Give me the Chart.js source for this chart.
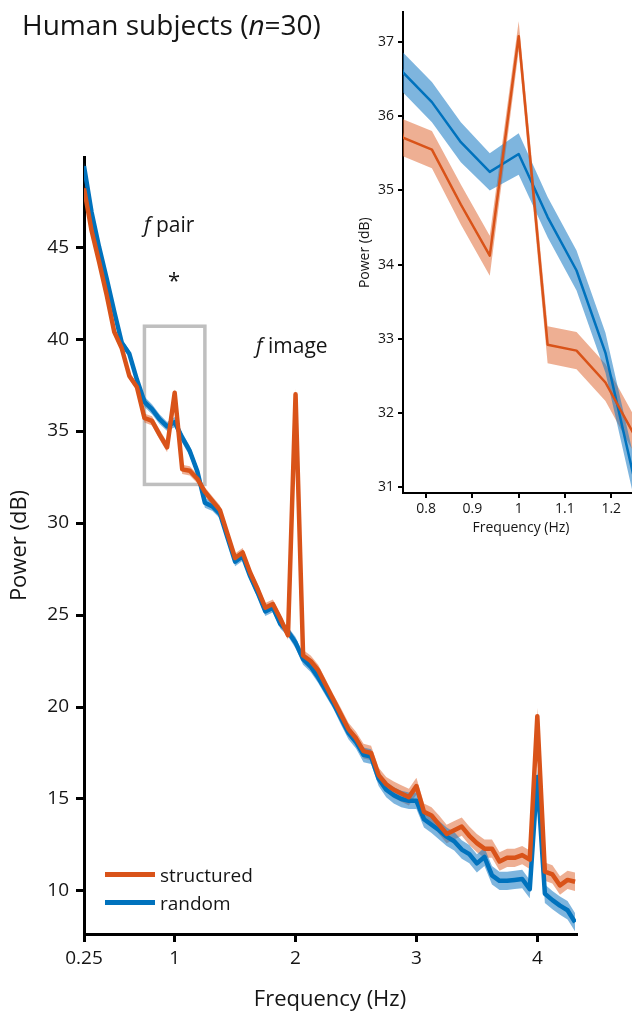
<!DOCTYPE html>
<html><head><meta charset="utf-8">
<script src="https://cdn.jsdelivr.net/npm/chart.js@4.4.1/dist/chart.umd.min.js"></script>
<style>
html,body{margin:0;padding:0;background:#fff;overflow:hidden;width:632px;height:1017px;}
#wrap{position:relative;width:632px;height:1017px;overflow:hidden;background:#fff;}
#main{position:absolute;left:0;top:0;}
#inset{position:absolute;left:340px;top:0;}
.t{position:absolute;font-family:"Open Sans","Noto Sans",sans-serif;color:#151515;white-space:nowrap;line-height:1;}
.lg{position:absolute;height:5px;width:50px;}
</style></head><body>
<div id="wrap">
<canvas id="main" width="632" height="1017"></canvas>
<canvas id="inset" width="311" height="545"></canvas>
<div class="t" style="left:22px;top:10px;font-size:28px;">Human subjects (<i>n</i>=30)</div>
<div class="t" style="left:144px;top:214px;font-size:21px;"><i>f</i> pair</div>
<div class="t" style="left:168px;top:268px;font-size:22px;">*</div>
<div class="t" style="left:256px;top:335px;font-size:21px;"><i>f</i> image</div>
<div class="lg" style="left:105px;top:872px;background:#D95319;"></div>
<div class="lg" style="left:105px;top:900px;background:#0072BD;"></div>
<div class="t" style="left:160px;top:866px;font-size:19px;">structured</div>
<div class="t" style="left:160px;top:894px;font-size:19px;">random</div>
</div>
<script>
// ---------- data ----------
const freqs = [0.25,0.3125,0.375,0.4375,0.5,0.5625,0.625,0.6875,0.75,0.8125,0.875,0.9375,1,1.0625,1.125,1.1875,1.25,1.3125,1.375,1.4375,1.5,1.5625,1.625,1.6875,1.75,1.8125,1.875,1.9375,2,2.0625,2.125,2.1875,2.25,2.3125,2.375,2.4375,2.5,2.5625,2.625,2.6875,2.75,2.8125,2.875,2.9375,3,3.0625,3.125,3.1875,3.25,3.3125,3.375,3.4375,3.5,3.5625,3.625,3.6875,3.75,3.8125,3.875,3.9375,4,4.0625,4.125,4.1875,4.25,4.3125];
const structured = [48.2,45.9,44.2,42.4,40.4,39.5,38.0,37.4,
  35.71,35.55,34.81,34.12,37.08,32.92,32.84,32.41,31.70,
  31.2,30.7,29.4,28.1,28.4,27.3,26.4,25.4,25.6,24.8,23.9,
  37.0,22.8,22.5,22.0,21.2,20.4,19.6,18.8,18.3,17.6,17.5,16.3,15.8,15.5,15.3,15.1,
  15.7,14.3,14.1,13.6,13.1,13.3,13.5,13.0,12.6,12.3,12.3,11.6,11.8,11.8,11.95,11.7,19.5,11.05,10.9,10.3,10.6,10.5];
const random = [49.4,46.9,45.0,43.3,41.5,39.8,39.2,37.8,
  36.59,36.19,35.65,35.25,35.49,34.64,33.92,32.81,31.10,
  30.9,30.5,29.2,27.9,28.2,27.1,26.2,25.2,25.4,24.5,24.1,
  23.5,22.6,22.2,21.6,20.9,20.2,19.4,18.6,18.1,17.4,17.3,16.1,15.5,15.2,15.0,14.9,
  14.9,13.9,13.6,13.3,12.95,12.7,12.25,12.0,11.5,11.85,10.85,10.55,10.55,10.6,10.65,10.1,16.2,9.85,9.5,9.2,8.95,8.3];
const semStructured = [0.2,0.2,0.2,0.2,0.2,0.2,0.2,0.2,
  0.25,0.25,0.27,0.27,0.2,0.25,0.25,0.25,0.25,
  0.25,0.25,0.25,0.25,0.25,0.25,0.25,0.25,0.25,0.25,0.25,
  0.3,0.3,0.3,0.3,0.3,0.3,0.35,0.35,0.35,0.4,0.4,0.4,0.4,0.45,0.45,0.45,
  0.45,0.45,0.45,0.5,0.5,0.5,0.5,0.5,0.5,0.5,0.5,0.5,0.5,0.5,0.5,0.5,0.45,0.5,0.5,0.5,0.5,0.5];
const semRandom = [0.2,0.2,0.2,0.2,0.2,0.2,0.2,0.2,
  0.27,0.27,0.27,0.25,0.28,0.27,0.27,0.27,0.27,
  0.25,0.25,0.25,0.25,0.25,0.25,0.25,0.25,0.25,0.25,0.25,
  0.3,0.3,0.3,0.3,0.3,0.3,0.35,0.35,0.35,0.4,0.4,0.4,0.4,0.45,0.45,0.45,
  0.45,0.45,0.45,0.5,0.5,0.5,0.5,0.5,0.5,0.5,0.5,0.5,0.5,0.5,0.5,0.5,0.45,0.5,0.5,0.5,0.5,0.5];
const mainXTicks = [0.25,1,2,3,4];
const mainXTickLabels = ['0.25','1','2','3','4'];
const mainYTicks = [10,15,20,25,30,35,40,45];
const insetXTicks = [0.8,0.9,1,1.1,1.2];
const insetXTickLabels = ['0.8','0.9','1','1.1','1.2'];
const insetYTicks = [31,32,33,34,35,36,37];
const boxFreq = [0.75,1.25];
const boxPower = [32.1,40.7];

// ---------- styling ----------
const family = '"Open Sans","Noto Sans",sans-serif';
const ORANGE = '#D95319', BLUE = '#0072BD';
const ORANGE_BAND = 'rgba(222,96,40,0.5)', BLUE_BAND = 'rgba(20,120,195,0.55)';
const pts = (vals, sem, sign) => freqs.map((f,i)=>({x:f, y: sem ? vals[i] + sign*sem[i] : vals[i]}));

function makeDatasets(lw){
  return [
    {data:pts(structured), borderColor:ORANGE, borderWidth:lw, order:0, fill:false},
    {data:pts(random), borderColor:BLUE, borderWidth:lw, order:1, fill:false},
    {data:pts(random,semRandom,1), borderWidth:0, borderColor:'rgba(0,0,0,0)', order:2, fill:false},
    {data:pts(random,semRandom,-1), borderWidth:0, borderColor:'rgba(0,0,0,0)', backgroundColor:BLUE_BAND, order:2, fill:'-1'},
    {data:pts(structured,semStructured,1), borderWidth:0, borderColor:'rgba(0,0,0,0)', order:3, fill:false},
    {data:pts(structured,semStructured,-1), borderWidth:0, borderColor:'rgba(0,0,0,0)', backgroundColor:ORANGE_BAND, order:3, fill:'-1'}
  ];
}

const boxPlugin = {
  id:'box',
  beforeDatasetsDraw(chart){
    const {ctx, scales:{x,y}} = chart;
    const x0=x.getPixelForValue(boxFreq[0]), x1=x.getPixelForValue(boxFreq[1]);
    const y0=y.getPixelForValue(boxPower[1]), y1=y.getPixelForValue(boxPower[0]);
    ctx.save(); ctx.strokeStyle='#BFBFBF'; ctx.lineWidth=3.5;
    ctx.strokeRect(x0,y0,x1-x0,y1-y0); ctx.restore();
  }
};

Chart.defaults.font.family = family;

new Chart(document.getElementById('main'), {
  type:'line',
  data:{datasets:makeDatasets(4.5)},
  plugins:[boxPlugin],
  options:{
    responsive:false, animation:false, devicePixelRatio:1,
    layout:{padding:{left:0,right:56,top:157,bottom:0}},
    plugins:{legend:{display:false},tooltip:{enabled:false}},
    elements:{point:{radius:0},line:{tension:0,borderJoinStyle:'round',borderCapStyle:'butt'}},
    scales:{
      x:{type:'linear',min:0.25,max:4.32,
        afterBuildTicks:s=>{s.ticks=mainXTicks.map(v=>({value:v}));},
        afterFit:s=>{s.height=83;},
        ticks:{font:{family,size:19},color:'#151515',padding:5,maxRotation:0,autoSkip:false,
          callback:(v,i)=>mainXTickLabels[i]},
        grid:{drawOnChartArea:false,drawTicks:true,tickLength:8,color:'#000',lineWidth:3},
        border:{display:true,color:'#000',width:3},
        title:{display:true,text:'Frequency (Hz)',font:{family,size:22},color:'#151515',padding:{top:0,bottom:4}}
      },
      y:{type:'linear',min:7.66,max:49.9,
        afterBuildTicks:s=>{s.ticks=mainYTicks.map(v=>({value:v}));},
        afterFit:s=>{s.width=84;},
        ticks:{font:{family,size:19},color:'#151515',padding:7,callback:v=>String(v)},
        grid:{drawOnChartArea:false,drawTicks:true,tickLength:8,color:'#000',lineWidth:3},
        border:{display:true,color:'#000',width:3},
        title:{display:true,text:'Power (dB)',font:{family,size:22},color:'#151515',padding:{top:7,bottom:0}}
      }
    }
  }
});

const insetSets = makeDatasets(2.5).map(d=>Object.assign(d,{clip:0}));
new Chart(document.getElementById('inset'), {
  type:'line',
  data:{datasets:insetSets},
  options:{
    responsive:false, animation:false, devicePixelRatio:1,
    layout:{padding:{left:0,right:12,top:6,bottom:0}},
    plugins:{legend:{display:false},tooltip:{enabled:false}},
    elements:{point:{radius:0},line:{tension:0,borderJoinStyle:'round'}},
    scales:{
      x:{type:'linear',min:0.75,max:1.26,
        afterBuildTicks:s=>{s.ticks=insetXTicks.map(v=>({value:v}));},
        afterFit:s=>{s.height=52;},
        ticks:{font:{family,size:14},color:'#151515',padding:3,maxRotation:0,autoSkip:false,
          callback:(v,i)=>insetXTickLabels[i]},
        grid:{drawOnChartArea:false,drawTicks:true,tickLength:5,color:'#000',lineWidth:2},
        border:{display:true,color:'#000',width:2},
        title:{display:true,text:'Frequency (Hz)',font:{family,size:14},color:'#151515',padding:{top:0,bottom:9}}
      },
      y:{type:'linear',min:30.92,max:37.4,
        afterBuildTicks:s=>{s.ticks=insetYTicks.map(v=>({value:v}));},
        afterFit:s=>{s.width=63;},
        ticks:{font:{family,size:14},color:'#151515',padding:4,callback:v=>String(v)},
        grid:{drawOnChartArea:false,drawTicks:true,tickLength:5,color:'#000',lineWidth:2},
        border:{display:true,color:'#000',width:2},
        title:{display:true,text:'Power (dB)',font:{family,size:14},color:'#151515',padding:{top:17,bottom:0}}
      }
    }
  }
});
</script>
</body></html>
